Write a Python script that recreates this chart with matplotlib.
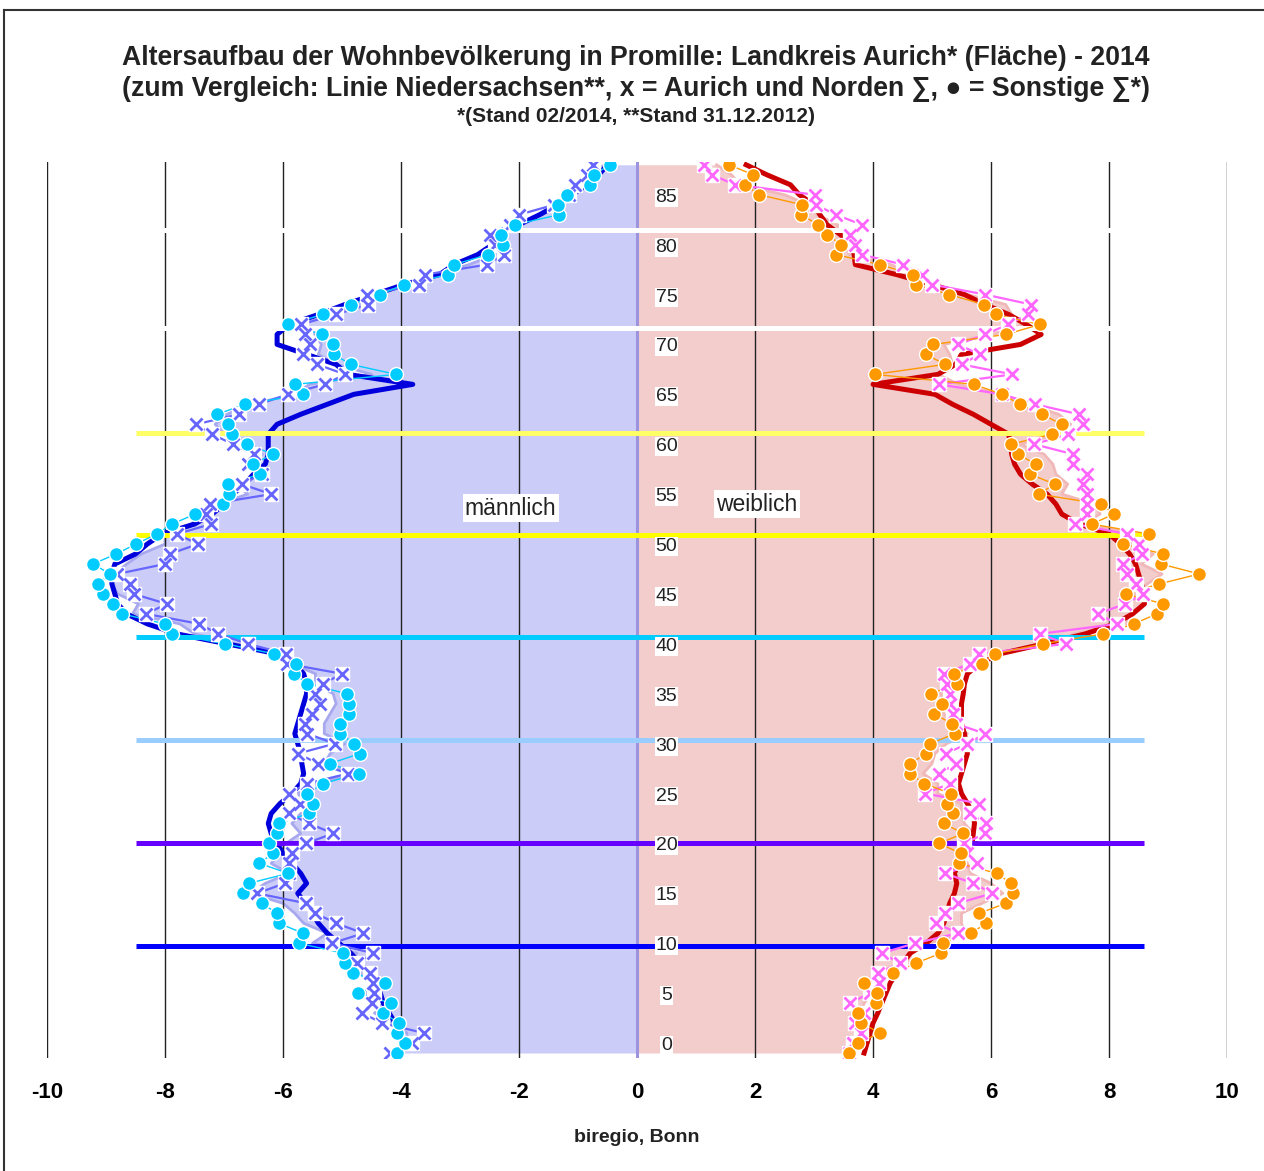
import matplotlib

matplotlib.use("Agg")
import matplotlib.pyplot as plt
from matplotlib.lines import Line2D

# Alter 0..89
ages = list(range(90))

# Männer (negativ), Promille
male_kreis = [
    -4.1, -3.9, -3.9, -4.15, -4.45, -4.3, -4.6, -4.35, -4.7, -4.85,
    -4.75, -5.5, -5.25, -5.65, -5.8, -6.0, -6.55, -6.3, -5.9, -6.2,
    -6.05, -5.95, -5.7, -5.85, -5.7, -5.6, -5.75, -5.45, -4.8, -5.3,
    -5.2, -4.95, -5.3, -5.3, -5.2, -5.1, -5.15, -5.45, -5.45, -5.85,
    -6.05, -6.8, -7.5, -7.75, -8.55, -8.45, -8.8, -8.9, -8.85, -8.65,
    -8.4, -8.0, -8.0, -7.55, -7.4, -7.1, -6.6, -6.8, -6.4, -6.55,
    -6.35, -6.7, -7.0, -7.15, -6.95, -6.55, -5.8, -5.55, -4.5, -5.1,
    -5.4, -5.35, -5.45, -5.8, -5.2, -4.7, -4.45, -3.85, -3.4, -2.85,
    -2.4, -2.35, -2.4, -2.1, -1.6, -1.35, -1.2, -0.9, -0.8, -0.55,
]
male_nds = [
    -4.0, -4.0, -4.0, -4.1, -4.2, -4.3, -4.35, -4.45, -4.55, -4.7,
    -4.85, -5.05, -5.25, -5.4, -5.5, -5.62, -5.75, -5.6, -5.7, -5.85,
    -6.0, -6.1, -6.2, -6.25, -6.2, -6.05, -5.85, -5.7, -5.65, -5.68,
    -5.7, -5.75, -5.8, -5.75, -5.7, -5.65, -5.6, -5.6, -5.65, -5.8,
    -6.1, -6.95, -7.8, -8.3, -8.65, -8.8, -8.85, -8.9, -8.9, -8.85,
    -8.5, -8.3, -8.05, -7.5, -7.2, -7.0, -6.85, -6.65, -6.5, -6.3,
    -6.25, -6.25, -6.25, -6.1, -5.7, -5.25, -4.8, -3.8, -4.9, -5.1,
    -5.6, -6.1, -6.1, -5.9, -5.4, -4.95, -4.45, -3.95, -3.35, -3.1,
    -2.7, -2.45, -2.3, -2.0, -1.65, -1.35, -1.1, -0.85, -0.65, -0.5,
]
male_aurich_norden = [
    -4.19, -3.81, -3.61, -4.32, -4.66, -4.49, -4.45, -4.47, -4.53, -4.75,
    -4.47, -5.17, -4.64, -5.1, -5.45, -5.61, -6.44, -5.97, -5.9, -5.9,
    -5.85, -5.61, -5.15, -5.56, -5.9, -5.71, -5.9, -5.59, -4.9, -5.4,
    -5.75, -5.12, -5.59, -5.63, -5.51, -5.37, -5.45, -5.32, -5.0, -5.93,
    -5.95, -6.6, -7.1, -7.42, -8.32, -7.97, -8.53, -8.6, -8.81, -8.0,
    -7.92, -7.44, -7.8, -7.22, -7.3, -7.24, -6.2, -6.7, -6.36, -6.6,
    -6.5, -6.85, -7.2, -7.47, -6.75, -6.41, -5.92, -5.29, -4.95, -5.42,
    -5.66, -5.55, -5.63, -5.7, -5.1, -4.56, -4.58, -3.69, -3.59, -2.54,
    -2.25, -2.4, -2.49, -2.15, -2.0, -1.4, -1.15, -1.05, -0.85, -0.75,
]
male_sonstige = [
    -4.07, -3.93, -4.07, -4.03, -4.3, -4.17, -4.73, -4.27, -4.81, -4.95,
    -4.98, -5.73, -5.66, -6.07, -6.1, -6.36, -6.68, -6.58, -5.91, -6.4,
    -6.17, -6.24, -6.1, -6.07, -5.56, -5.49, -5.59, -5.32, -4.71, -5.2,
    -4.7, -4.8, -5.03, -5.03, -4.88, -4.88, -4.92, -5.59, -5.81, -5.78,
    -6.15, -6.98, -7.88, -8.0, -8.73, -8.88, -9.05, -9.14, -8.93, -9.22,
    -8.83, -8.49, -8.14, -7.88, -7.49, -7.02, -6.92, -6.93, -6.39, -6.51,
    -6.17, -6.61, -6.86, -6.93, -7.12, -6.64, -5.66, -5.8, -4.08, -4.85,
    -5.14, -5.15, -5.34, -5.92, -5.32, -4.85, -4.36, -3.95, -3.2, -3.1,
    -2.53, -2.27, -2.31, -2.07, -1.32, -1.34, -1.19, -0.8, -0.73, -0.46,
]

# Frauen, Promille
female_kreis = [
    3.6, 3.7, 3.95, 3.75, 3.8, 3.85, 4.0, 3.95, 4.2, 4.6,
    4.65, 4.95, 5.55, 5.5, 5.5, 5.85, 6.2, 6.0, 5.65, 5.6,
    5.55, 5.35, 5.7, 5.55, 5.5, 5.5, 5.1, 5.1, 4.85, 5.0,
    5.05, 5.25, 5.6, 5.35, 5.2, 5.25, 5.15, 5.35, 5.3, 5.75,
    5.95, 7.05, 7.4, 8.3, 8.35, 8.6, 8.45, 8.65, 8.9, 8.55,
    8.75, 8.35, 8.5, 7.55, 7.85, 7.75, 7.2, 7.3, 7.1, 7.05,
    6.9, 6.5, 7.15, 7.35, 7.15, 6.6, 6.2, 5.45, 5.1, 5.35,
    5.3, 5.2, 6.05, 6.55, 6.35, 6.25, 5.6, 4.85, 4.75, 4.3,
    3.6, 3.55, 3.4, 3.4, 3.05, 2.9, 2.5, 1.75, 1.6, 1.35,
]
female_nds = [
    3.85, 3.9, 3.95, 4.0, 4.08, 4.15, 4.22, 4.29, 4.4, 4.5,
    4.63, 4.9, 5.1, 5.2, 5.25, 5.3, 5.38, 5.42, 5.38, 5.45,
    5.6, 5.68, 5.7, 5.72, 5.7, 5.6, 5.5, 5.45, 5.5, 5.55,
    5.6, 5.58, 5.55, 5.5, 5.5, 5.5, 5.53, 5.55, 5.6, 5.8,
    6.15, 6.9, 7.6, 8.1, 8.4, 8.6, 8.6, 8.55, 8.5, 8.45,
    8.35, 8.2, 8.0, 7.5, 7.2, 7.1, 6.95, 6.7, 6.5, 6.4,
    6.35, 6.33, 6.3, 6.0, 5.7, 5.35, 5.05, 4.0, 5.1, 5.4,
    5.5, 6.5, 6.85, 6.6, 6.3, 5.9, 5.55, 5.0, 4.4, 3.7,
    3.68, 3.64, 3.45, 3.22, 3.1, 3.0, 2.75, 2.6, 2.2, 1.85,
]
female_aurich_norden = [
    3.6, 3.66, 3.8, 3.7, 3.85, 3.61, 3.95, 4.1, 4.08, 4.46,
    4.15, 4.71, 5.44, 5.07, 5.22, 5.44, 6.02, 5.7, 5.22, 5.76,
    5.6, 5.55, 5.9, 5.92, 5.65, 5.8, 4.88, 5.31, 5.12, 5.41,
    5.24, 5.6, 5.9, 5.4, 5.36, 5.3, 5.3, 5.25, 5.2, 5.64,
    5.8, 7.27, 6.83, 8.14, 7.81, 8.27, 8.58, 8.46, 8.3, 8.24,
    8.56, 8.5, 8.3, 7.42, 7.63, 7.63, 7.63, 7.56, 7.63, 7.39,
    7.39, 6.73, 7.3, 7.56, 7.49, 6.75, 6.19, 5.12, 6.36, 5.5,
    5.81, 5.44, 5.9, 6.29, 6.63, 6.68, 5.9, 5.0, 4.83, 4.51,
    3.81, 3.7, 3.61, 3.81, 3.37, 3.03, 3.02, 1.66, 1.27, 1.14,
]
female_sonstige = [
    3.59, 3.75, 4.12, 3.8, 3.75, 4.05, 4.07, 3.85, 4.34, 4.73,
    5.15, 5.19, 5.66, 5.92, 5.8, 6.25, 6.37, 6.34, 6.1, 5.46,
    5.49, 5.12, 5.53, 5.2, 5.36, 5.25, 5.32, 4.86, 4.63, 4.63,
    4.9, 4.97, 5.39, 5.34, 5.03, 5.17, 4.98, 5.42, 5.37, 5.85,
    6.07, 6.88, 7.9, 8.42, 8.81, 8.92, 8.29, 8.85, 9.53, 8.88,
    8.92, 8.24, 8.68, 7.71, 8.08, 7.86, 6.81, 7.08, 6.66, 6.76,
    6.46, 6.34, 7.03, 7.2, 6.86, 6.49, 6.19, 5.71, 4.03, 5.22,
    4.9, 5.02, 6.25, 6.83, 6.08, 5.88, 5.29, 4.73, 4.68, 4.12,
    3.37, 3.46, 3.22, 3.07, 2.78, 2.8, 2.07, 1.83, 1.97, 1.56,
]

# Markierungslinien (Alter) und Farben
mark_ages = [82.5, 72.6, 62.1, 51.9, 41.7, 31.4, 21.0, 10.7]
mark_colors = ["white", "white", "#ffff66", "#ffff00", "#00ccff",
               "#99ccff", "#6600ff", "#0000ff"]

age_labels = list(range(0, 90, 5))
xticks = list(range(-10, 11, 2))

TITLE1 = "Altersaufbau der Wohnbevölkerung in Promille: Landkreis Aurich* (Fläche) - 2014"
TITLE2 = "(zum Vergleich: Linie Niedersachsen**, x = Aurich und Norden \u2211, \u25cf = Sonstige \u2211*)"
TITLE3 = "*(Stand 02/2014, **Stand 31.12.2012)"


def draw_side(ax, kreis, nds, an, sonst, fill_col, edge_col, nds_col, x_col, dot_line_col):
    ax.fill_betweenx(ages, 0, kreis, color=fill_col, lw=0, zorder=1)
    ax.plot(kreis, ages, color=edge_col, lw=2, zorder=1.5)
    ax.plot(nds, ages, color=nds_col, lw=3.6, zorder=3, solid_joinstyle="round")
    ax.plot(an, ages, color=x_col, lw=1.6, zorder=5)
    ax.plot(sonst, ages, color=dot_line_col, lw=1.0, zorder=5)
    ax.plot(an, ages, ls="none", marker="s", ms=10, mfc="white", mec="white", zorder=6)
    ax.plot(an, ages, ls="none", marker="x", ms=8, mew=2, color=x_col, zorder=6.5)
    ax.plot(sonst, ages, ls="none", marker="o", ms=10, mfc=dot_line_col,
            mec="white", mew=1, zorder=7)


def main():
    plt.rcParams["font.family"] = ["Liberation Sans", "DejaVu Sans"]
    fig = plt.figure(figsize=(12.64, 11.71), dpi=100)
    ax = fig.add_axes([47 / 1264, 113 / 1171, 1180 / 1264, 896 / 1171])
    ax.set_xlim(-10, 10)
    ax.set_ylim(-0.5, 89.28)

    # Gitterlinien
    for v in xticks:
        ax.axvline(v, color="#222222", lw=1, zorder=2)

    draw_side(ax, male_kreis, male_nds, male_aurich_norden, male_sonstige,
              "#ccccf8", "#a8a8ee", "#0000dd", "#6666ff", "#00ccff")
    draw_side(ax, female_kreis, female_nds, female_aurich_norden, female_sonstige,
              "#f3cccc", "#f0b8b8", "#cc0000", "#ff66ff", "#ff9900")
    ax.axvline(0, color="#9c94dc", lw=2.2, zorder=2.5)

    ax.hlines(mark_ages, -8.5, 8.6, colors=mark_colors, lw=3.6, zorder=4)

    for a in age_labels:
        ax.text(0.5, a + 0.75, str(a), ha="center", va="center", fontsize=14,
                color="#222222", zorder=8,
                bbox=dict(boxstyle="square,pad=0.05", fc="white", ec="none"))

    ax.text(-2.14, 54.6, "männlich", ha="center", va="center", fontsize=16.5, zorder=8,
            color="#222222", bbox=dict(boxstyle="square,pad=0.1", fc="white", ec="none"))
    ax.text(2.03, 55.0, "weiblich", ha="center", va="center", fontsize=16.5, zorder=8,
            color="#222222", bbox=dict(boxstyle="square,pad=0.1", fc="white", ec="none"))

    ax.set_xticks(xticks)
    ax.set_xticklabels([str(v) for v in xticks], fontsize=16, fontweight="bold")
    ax.tick_params(axis="x", length=0, pad=17)
    ax.set_yticks([])
    for s in ax.spines.values():
        s.set_visible(False)

    fig.text(636 / 1264, 1 - 58 / 1171, TITLE1, ha="center", va="center",
             fontsize=19.2, fontweight="bold", color="#222222")
    fig.text(636 / 1264, 1 - 89 / 1171, TITLE2, ha="center", va="center",
             fontsize=19.2, fontweight="bold", color="#222222")
    fig.text(636 / 1264, 1 - 116 / 1171, TITLE3, ha="center", va="center",
             fontsize=15, fontweight="bold", color="#222222")
    fig.text(637 / 1264, 1 - 1137 / 1171, "biregio, Bonn", ha="center", va="center",
             fontsize=14, fontweight="bold", color="#222222")

    # Rahmen oben und links
    fig.add_artist(Line2D([4 / 1264, 4 / 1264], [0, 1 - 10 / 1171],
                          transform=fig.transFigure, color="#333333", lw=1.5))
    fig.add_artist(Line2D([4 / 1264, 1], [1 - 10 / 1171, 1 - 10 / 1171],
                          transform=fig.transFigure, color="#333333", lw=1.5))

    fig.savefig("out.png", dpi=100)
    plt.close(fig)


if __name__ == "__main__":
    main()
